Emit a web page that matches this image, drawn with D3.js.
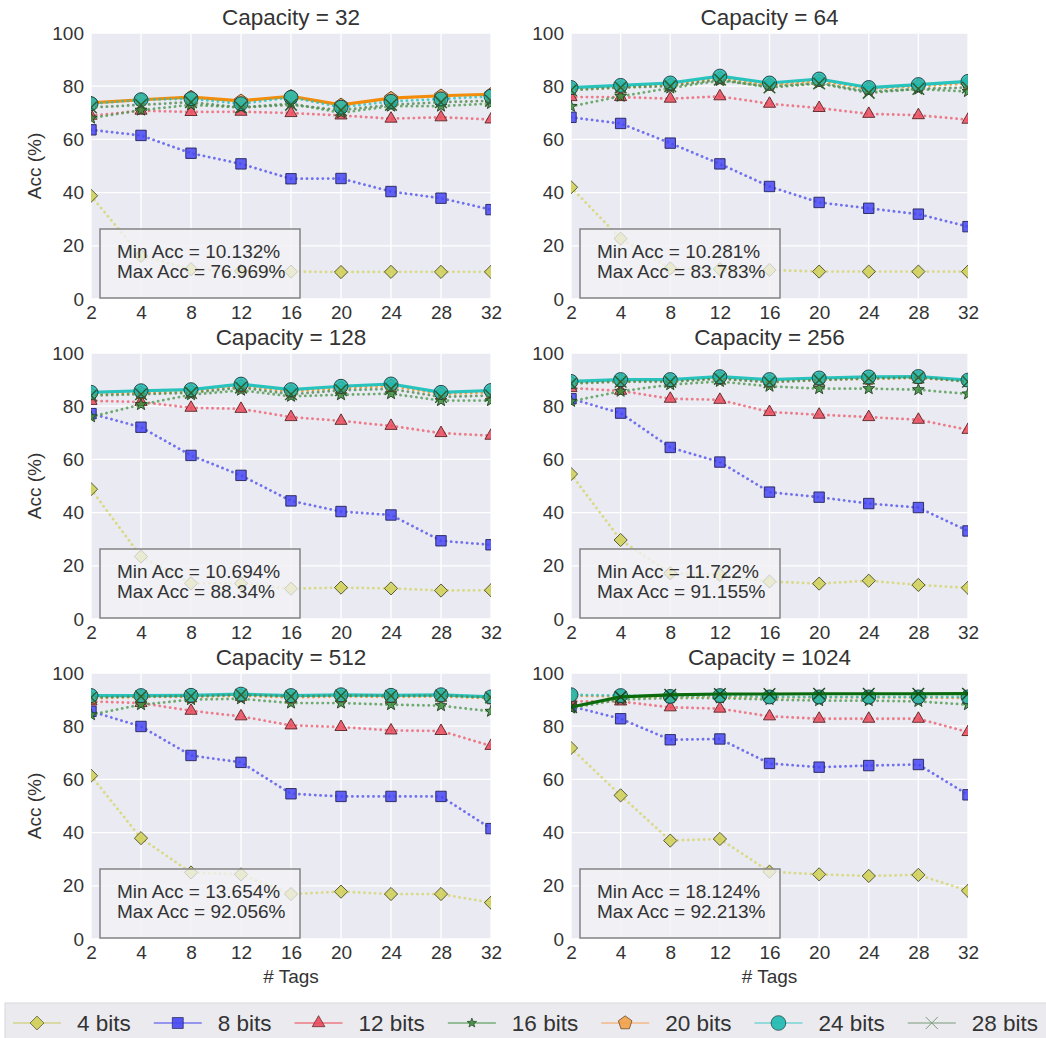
<!DOCTYPE html>
<html>
<head>
<meta charset="utf-8">
<script src="https://cdn.jsdelivr.net/npm/d3@7"></script>
<style>
  html, body { margin: 0; padding: 0; background: #ffffff; }
  svg { display: block; font-family: "Liberation Sans", Arial, sans-serif; }
</style>
</head>
<body>
<svg id="chart" width="1046" height="1038"></svg>
<script>
// ---------------- data ----------------
const tags = ["2", "4", "8", "12", "16", "20", "24", "28", "32"];
const seriesNames = ["4 bits", "8 bits", "12 bits", "16 bits", "20 bits", "24 bits", "28 bits"];
const capacities = ["32", "64", "128", "256", "512", "1024"];
const yTicks = [0, 20, 40, 60, 80, 100];

// accuracy (%) per capacity, rows in seriesNames order, columns in tags order
const acc32 = [
  [38.8, 16.2, 11.2, 10.5, 10.3, 10.132, 10.2, 10.2, 10.2],
  [63.6, 61.5, 54.8, 50.8, 45.2, 45.3, 40.4, 37.9, 33.6],
  [68.9, 70.8, 70.3, 70.4, 69.9, 69.0, 67.8, 68.3, 67.5],
  [68.0, 71.0, 73.0, 72.0, 73.5, 70.0, 72.5, 72.5, 73.5],
  [73.7, 74.9, 75.9, 74.5, 76.2, 73.0, 75.5, 76.4, 76.969],
  [73.4, 74.9, 75.3, 73.4, 75.8, 72.1, 74.3, 75.2, 76.2],
  [72.0, 73.0, 74.0, 72.0, 73.0, 71.0, 73.0, 74.0, 74.5]
];
const acc64 = [
  [42.0, 22.7, 11.5, 11.2, 10.9, 10.3, 10.3, 10.3, 10.281],
  [68.3, 66.0, 58.6, 50.8, 42.3, 36.3, 34.1, 31.9, 27.2],
  [75.9, 75.9, 75.3, 76.2, 73.4, 71.8, 69.6, 69.1, 67.4],
  [72.4, 76.2, 79.3, 82.1, 79.9, 81.2, 78.0, 78.9, 78.0],
  [79.0, 79.5, 80.5, 83.0, 80.5, 82.0, 79.0, 80.0, 81.0],
  [79.5, 80.3, 81.2, 83.783, 81.2, 82.7, 79.5, 80.6, 81.8],
  [78.5, 79.5, 80.0, 82.5, 79.5, 81.0, 77.5, 79.0, 79.5]
];
const acc128 = [
  [48.8, 23.5, 13.4, 13.4, 11.4, 11.8, 11.5, 10.694, 10.8],
  [77.2, 72.1, 61.5, 54.0, 44.4, 40.4, 39.1, 29.4, 27.9],
  [82.0, 81.6, 79.4, 79.0, 75.9, 74.5, 72.6, 69.9, 68.9],
  [76.0, 80.6, 84.3, 86.0, 83.7, 84.3, 84.7, 82.1, 82.1],
  [84.5, 85.0, 85.5, 87.5, 85.5, 86.8, 87.6, 84.6, 85.2],
  [85.2, 85.8, 86.2, 88.3, 86.2, 87.5, 88.34, 85.2, 85.9],
  [84.0, 84.5, 85.0, 87.0, 84.5, 86.0, 86.5, 83.5, 84.0]
];
const acc256 = [
  [54.5, 29.7, 17.2, 16.6, 14.1, 13.3, 14.4, 12.8, 11.722],
  [82.8, 77.4, 64.5, 59.0, 47.7, 45.8, 43.4, 41.9, 33.1],
  [86.8, 85.8, 82.8, 82.4, 77.8, 76.8, 75.9, 74.9, 71.1],
  [81.8, 85.6, 88.1, 89.3, 87.5, 86.6, 86.6, 86.2, 84.6],
  [88.8, 89.5, 89.5, 90.5, 89.3, 90.0, 90.3, 90.6, 89.5],
  [89.3, 90.0, 90.0, 91.1, 90.0, 90.6, 91.0, 91.155, 89.8],
  [88.5, 89.2, 89.2, 90.3, 89.0, 89.8, 90.4, 90.8, 89.2]
];
const acc512 = [
  [61.4, 37.9, 25.0, 24.3, 16.9, 17.8, 16.9, 16.9, 13.654],
  [85.6, 79.9, 69.0, 66.4, 54.6, 53.6, 53.6, 53.6, 41.5],
  [89.3, 88.7, 85.8, 83.7, 80.3, 79.7, 78.4, 78.2, 72.6],
  [84.3, 88.1, 90.0, 90.3, 88.7, 88.7, 88.1, 87.7, 85.6],
  [90.5, 91.0, 91.0, 91.5, 90.8, 91.2, 91.0, 91.2, 90.5],
  [91.5, 91.5, 91.6, 92.056, 91.5, 91.8, 91.6, 91.8, 91.0],
  [90.8, 91.2, 91.3, 91.8, 91.2, 91.5, 91.4, 91.5, 90.8]
];
const acc1024 = [
  [71.8, 54.0, 37.0, 37.6, 25.3, 24.3, 23.7, 24.1, 18.124],
  [87.5, 82.8, 74.9, 75.2, 66.0, 64.6, 65.2, 65.6, 54.2],
  [89.3, 89.3, 87.1, 86.6, 83.7, 82.8, 82.8, 82.8, 77.8],
  [86.8, 90.0, 90.6, 90.6, 90.0, 89.6, 89.6, 89.3, 88.1],
  [91.5, 91.2, 91.0, 91.2, 90.8, 90.8, 90.8, 90.8, 90.6],
  [91.8, 91.5, 91.2, 91.5, 91.0, 91.0, 91.0, 91.0, 91.0],
  [87.2, 91.0, 91.8, 92.1, 92.1, 92.2, 92.2, 92.2, 92.213]
];
const accByCapacity = [acc32, acc64, acc128, acc256, acc512, acc1024];

const minLabels = ["Min Acc = 10.132%", "Min Acc = 10.281%", "Min Acc = 10.694%", "Min Acc = 11.722%", "Min Acc = 13.654%", "Min Acc = 18.124%"];
const maxLabels = ["Max Acc = 76.969%", "Max Acc = 83.783%", "Max Acc = 88.34%", "Max Acc = 91.155%", "Max Acc = 92.056%", "Max Acc = 92.213%"];
// series drawn as a solid line (the one holding the max) per capacity
const bestSeries = ["20 bits", "24 bits", "24 bits", "24 bits", "24 bits", "28 bits"];

// ---------------- styles ----------------
const markerTypes = ["diamond", "square", "triangle", "star", "pentagon", "circle", "x"];
const markerFill = ["#CFCF55", "#4646F3", "#EA4A5C", "#3E8E3E", "#F2A148", "#1DB9B0", "none"];
const markerStroke = ["#4a4a2a", "#22225a", "#5a2222", "#1f3f1f", "#5a3a1a", "#1a3a3a", "#2f5f2f"];
const lineColor = ["#D6D66A", "#5252EE", "#EE5F6E", "#4E9A4E", "#F28C0A", "#27C3BC", "#4F8A4F"];
const solidColor = ["#C8C830", "#3030F0", "#E83040", "#2E8B2E", "#F28C0A", "#27C3BC", "#0B6A0B"];
const legendLine = ["#C8C860", "#4040F0", "#F04050", "#3E8E3E", "#F5A050", "#40C8C8", "#7A9A7A"];

const colX = [[91, 491], [571, 968]];
const rowY = [[33, 299], [353, 619], [673, 939]];
const bg = "#EAEAF2";
const textColor = "#333333";
const fs = 19;

const svg = d3.select("#chart");

function markerPath(type, s) {
  const p = d3.path();
  if (type === "circle") {
    const r = 7 * s; p.moveTo(r, 0); p.arc(0, 0, r, 0, 2 * Math.PI); p.closePath();
  } else if (type === "square") {
    const h = 5.2 * s; p.rect(-h, -h, 2 * h, 2 * h);
  } else if (type === "diamond") {
    const h = 6.6 * s; p.moveTo(0, -h); p.lineTo(h, 0); p.lineTo(0, h); p.lineTo(-h, 0); p.closePath();
  } else if (type === "triangle") {
    const r = 7 * s; p.moveTo(0, -r); p.lineTo(r * 0.866, r * 0.5); p.lineTo(-r * 0.866, r * 0.5); p.closePath();
  } else if (type === "pentagon") {
    const r = 6.8 * s;
    for (let i = 0; i < 5; i++) {
      const a = -Math.PI / 2 + i * 2 * Math.PI / 5;
      if (i === 0) p.moveTo(r * Math.cos(a), r * Math.sin(a)); else p.lineTo(r * Math.cos(a), r * Math.sin(a));
    }
    p.closePath();
  } else if (type === "star") {
    const ro = 6.2 * s, ri = 2.6 * s;
    for (let i = 0; i < 10; i++) {
      const a = -Math.PI / 2 + i * Math.PI / 5; const r = i % 2 ? ri : ro;
      if (i === 0) p.moveTo(r * Math.cos(a), r * Math.sin(a)); else p.lineTo(r * Math.cos(a), r * Math.sin(a));
    }
    p.closePath();
  } else if (type === "x") {
    const h = 5.8 * s; p.moveTo(-h, -h); p.lineTo(h, h); p.moveTo(-h, h); p.lineTo(h, -h);
  }
  return p.toString();
}

capacities.forEach((cap, ci) => {
  const col = ci % 2, row = Math.floor(ci / 2);
  const [x0, x1] = colX[col];
  const [y0, y1] = rowY[row];
  const x = d3.scalePoint().domain(tags).range([x0, x1]).padding(0);
  const y = d3.scaleLinear().domain([0, 100]).range([y1, y0]);
  const g = svg.append("g");

  g.append("rect").attr("x", x0).attr("y", y0).attr("width", x1 - x0).attr("height", y1 - y0).attr("fill", bg);

  g.append("g").selectAll("line").data(yTicks).join("line")
    .attr("x1", x0).attr("x2", x1).attr("y1", d => y(d)).attr("y2", d => y(d))
    .attr("stroke", "#ffffff").attr("stroke-width", 1.3);
  g.append("g").selectAll("line").data(tags).join("line")
    .attr("x1", d => x(d)).attr("x2", d => x(d)).attr("y1", y0).attr("y2", y1)
    .attr("stroke", "#ffffff").attr("stroke-width", 1.3);

  const ya = g.append("g").attr("transform", `translate(${x0 - 7},0)`)
    .call(d3.axisLeft(y).tickValues(yTicks).tickSize(0).tickPadding(0));
  ya.select(".domain").remove();
  ya.selectAll("text").attr("font-size", fs).attr("fill", textColor).attr("font-family", "Liberation Sans, Arial, sans-serif");

  const xa = g.append("g").attr("transform", `translate(0,${y1 + 6})`)
    .call(d3.axisBottom(x).tickSize(0).tickPadding(0));
  xa.select(".domain").remove();
  xa.selectAll("text").attr("font-size", fs).attr("fill", textColor).attr("font-family", "Liberation Sans, Arial, sans-serif");

  g.append("text").attr("x", (x0 + x1) / 2).attr("y", y0 - 8).attr("text-anchor", "middle")
    .attr("font-size", 22.5).attr("fill", textColor).text(`Capacity = ${cap}`);

  if (col === 0) {
    g.append("text").attr("transform", `translate(${41},${(y0 + y1) / 2}) rotate(-90)`)
      .attr("text-anchor", "middle").attr("font-size", fs).attr("fill", textColor).text("Acc (%)");
  }
  if (row === 2) {
    g.append("text").attr("x", (x0 + x1) / 2).attr("y", y1 + 44).attr("text-anchor", "middle")
      .attr("font-size", fs).attr("fill", textColor).text("# Tags");
  }

  const clipId = `clip${ci}`;
  svg.append("clipPath").attr("id", clipId).append("rect")
    .attr("x", x0).attr("y", y0).attr("width", x1 - x0).attr("height", y1 - y0);
  const plot = g.append("g").attr("clip-path", `url(#${clipId})`);

  const data = accByCapacity[ci];
  const line = d3.line().x((d, i) => x(tags[i])).y(d => y(d));

  seriesNames.forEach((name, si) => {
    const vals = data[si];
    const isBest = name === bestSeries[ci];
    const sg = plot.append("g");
    const path = sg.append("path").attr("d", line(vals)).attr("fill", "none");
    if (isBest) {
      path.attr("stroke", solidColor[si]).attr("stroke-width", 3.2).attr("stroke-linejoin", "round");
    } else {
      path.attr("stroke", lineColor[si]).attr("stroke-width", 2.8).attr("stroke-linecap", "round")
        .attr("stroke-dasharray", "0.1 5.2").attr("opacity", 0.8);
    }
    sg.selectAll("path.m").data(vals).join("path").attr("class", "m")
      .attr("transform", (d, i) => `translate(${x(tags[i])},${y(d)})`)
      .attr("d", markerPath(markerTypes[si], 1))
      .attr("fill", markerFill[si])
      .attr("fill-opacity", 0.85)
      .attr("stroke", markerTypes[si] === "x" ? (isBest ? "#1a4a1a" : markerStroke[si]) : markerStroke[si])
      .attr("stroke-width", markerTypes[si] === "x" ? 1.5 : 0.9);
  });

  const bx = x0 + 9, by = y0 + 196, bw = 200, bh = 69;
  g.append("rect").attr("x", bx).attr("y", by).attr("width", bw).attr("height", bh)
    .attr("fill", "#F2F2F6").attr("fill-opacity", 0.75).attr("stroke", "#8a8a8a").attr("stroke-width", 1.6);
  g.append("text").attr("x", bx + 17).attr("y", by + 29).attr("font-size", fs).attr("fill", textColor).text(minLabels[ci]);
  g.append("text").attr("x", bx + 17).attr("y", by + 49).attr("font-size", fs).attr("fill", textColor).text(maxLabels[ci]);
});

// ---------------- legend ----------------
const lg = svg.append("g");
lg.append("rect").attr("x", 5).attr("y", 1003).attr("width", 1046).attr("height", 40)
  .attr("fill", "#EAEAEF").attr("stroke", "#d8d8dd").attr("stroke-width", 1);
let lx = 13;
const ly = 1023;
seriesNames.forEach((name, si) => {
  const item = lg.append("g");
  item.append("line").attr("x1", lx).attr("x2", lx + 48).attr("y1", ly).attr("y2", ly)
    .attr("stroke", legendLine[si]).attr("stroke-width", 1.1);
  item.append("path").attr("transform", `translate(${lx + 24},${ly})`)
    .attr("d", markerPath(markerTypes[si], si === 3 ? 0.8 : 1.05))
    .attr("fill", markerFill[si]).attr("fill-opacity", 0.9)
    .attr("stroke", markerTypes[si] === "x" ? "#7a9a7a" : markerStroke[si])
    .attr("stroke-width", markerTypes[si] === "x" ? 1.0 : 0.7);
  const t = item.append("text").attr("x", lx + 64).attr("y", 1031)
    .attr("font-size", 22.5).attr("fill", textColor).text(name);
  const tw = t.node().getComputedTextLength();
  lx = lx + 64 + tw + 23;
});
</script>
</body>
</html>
